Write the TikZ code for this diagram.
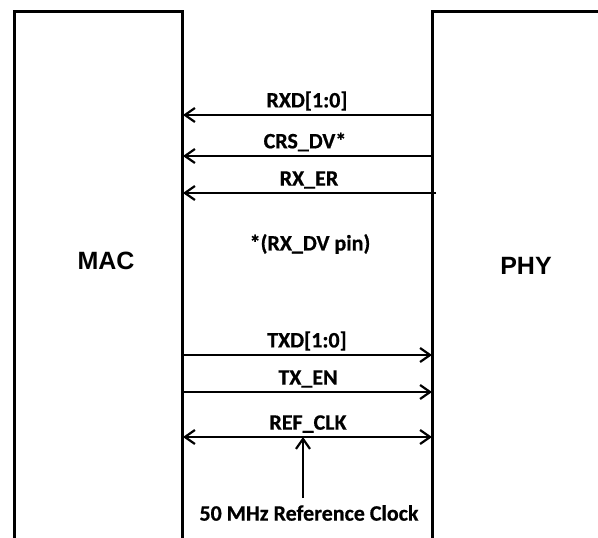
\documentclass[tikz,border=0pt]{standalone}
\usepackage{fontspec}
\setmainfont{Carlito}[BoldFeatures={FakeBold=0.6}]
\newfontfamily\arialfont{Liberation Sans}
\usetikzlibrary{arrows.meta}
\begin{document}
\begin{tikzpicture}[x=1pt,y=-1pt,
  box/.style={draw, line width=3pt, rectangle, inner sep=0pt},
  tip/.tip={Straight Barb[length=10pt,width=14pt,line width=2.2pt]},
  sig/.style={line width=2.2pt, -tip},
  lbl/.style={font=\fontsize{22}{24}\selectfont\bfseries, inner sep=0pt, anchor=center},
  big/.style={font=\fontsize{25}{28}\selectfont\arialfont\bfseries, inner sep=0pt, anchor=center}]
\useasboundingbox (0,0) rectangle (598,538);
\clip (0,0) rectangle (598,538);
\node[box, minimum width=168pt, minimum height=580pt] (mac) at (98,301) {};
\node[box, minimum width=200pt, minimum height=580pt] (phy) at (532,301) {};
\node[big] (mactxt) at (106,261) {MAC};
\node[big] (phytxt) at (526,266) {PHY};
% receive signals
\coordinate (rxdP) at (432,115);   \coordinate (rxdM) at (183,115);
\coordinate (crsP) at (432,156);   \coordinate (crsM) at (183,156);
\coordinate (rxerP) at (436,193);  \coordinate (rxerM) at (183,193);
\draw[sig] (rxdP) -- (rxdM);
\draw[sig] (crsP) -- (crsM);
\draw[sig] (rxerP) -- (rxerM);
\node[lbl] (rxdl) at (307,101) {RXD[1:0]};
\node[lbl] (crsl) at (305,142) {CRS\_DV*};
\node[lbl] (rxerl) at (309,180) {RX\_ER};
\node[lbl] (note) at (310,244) {*(RX\_DV pin)};
% transmit signals
\coordinate (txdM) at (183,355);   \coordinate (txdP) at (432,355);
\coordinate (txenM) at (183,392);  \coordinate (txenP) at (432,392);
\coordinate (clkM) at (183,437);   \coordinate (clkP) at (432,437);
\draw[sig] (txdM) -- (txdP);
\draw[sig] (txenM) -- (txenP);
\draw[sig, tip-tip] (clkM) -- (clkP);
\node[lbl] (txdl) at (307,341) {TXD[1:0]};
\node[lbl] (txenl) at (308,379) {TX\_EN};
\node[lbl] (clkl) at (308,424) {REF\_CLK};
\node[lbl] (osc) at (309,513) {50 MHz Reference Clock};
\coordinate (clkin) at (303,437);
\coordinate (clksrc) at (303,498);
\draw[sig] (clksrc) -- (clkin);
\end{tikzpicture}
\end{document}
